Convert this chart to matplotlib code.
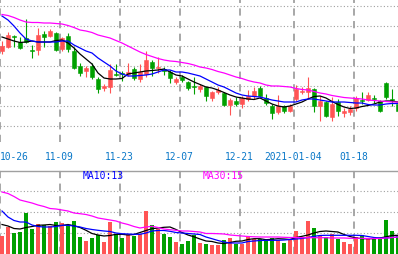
import numpy as np
import matplotlib.pyplot as plt
from matplotlib import transforms

# K线数据 (2020-10-26 起, 共67个交易日)
opens = [4.55, 4.59, 4.70, 4.64, 4.68, 4.56, 4.56, 4.72, 4.70, 4.73,
         4.57, 4.70, 4.55, 4.40, 4.35, 4.40, 4.27, 4.18, 4.19, 4.32,
         4.33, 4.32, 4.37, 4.27, 4.32, 4.44, 4.38, 4.37, 4.34, 4.24,
         4.29, 4.24, 4.20, 4.17, 4.19, 4.08, 4.14, 4.13, 4.01, 4.05,
         4.02, 4.07, 4.10, 4.18, 4.08, 4.00, 3.94, 4.00, 3.95, 4.07,
         4.14, 4.14, 4.17, 4.00, 4.04, 3.89, 4.04, 3.93, 3.94, 3.98,
         4.06, 4.06, 4.08, 4.05, 4.23, 4.07, 4.02]
highs = [4.65, 4.74, 4.71, 4.69, 4.87, 4.61, 4.78, 4.75, 4.77, 4.74,
         4.69, 4.73, 4.59, 4.43, 4.40, 4.43, 4.29, 4.22, 4.42, 4.42,
         4.35, 4.43, 4.39, 4.42, 4.55, 4.46, 4.49, 4.39, 4.36, 4.29,
         4.31, 4.25, 4.29, 4.22, 4.20, 4.15, 4.19, 4.14, 4.08, 4.09,
         4.10, 4.16, 4.19, 4.20, 4.12, 4.02, 4.11, 4.01, 4.02, 4.21,
         4.19, 4.29, 4.18, 4.10, 4.05, 4.09, 4.07, 3.98, 4.00, 4.10,
         4.14, 4.14, 4.11, 4.06, 4.24, 4.17, 4.04]
lows = [4.52, 4.58, 4.59, 4.57, 4.63, 4.48, 4.51, 4.59, 4.69, 4.55,
        4.55, 4.54, 4.37, 4.30, 4.29, 4.27, 4.13, 4.15, 4.13, 4.30,
        4.25, 4.30, 4.26, 4.24, 4.29, 4.30, 4.33, 4.31, 4.23, 4.22,
        4.24, 4.16, 4.12, 4.14, 4.05, 4.05, 4.12, 4.00, 3.91, 4.00,
        3.98, 4.05, 4.07, 4.09, 4.01, 3.87, 3.92, 3.93, 3.94, 4.05,
        4.12, 4.07, 3.94, 3.85, 3.89, 3.85, 3.90, 3.89, 3.91, 3.95,
        4.02, 4.05, 4.03, 3.94, 4.07, 4.00, 3.94]
closes = [4.60, 4.71, 4.69, 4.58, 4.64, 4.55, 4.71, 4.69, 4.75, 4.56,
          4.68, 4.57, 4.38, 4.33, 4.38, 4.29, 4.17, 4.20, 4.36, 4.31,
          4.32, 4.34, 4.28, 4.34, 4.46, 4.38, 4.39, 4.35, 4.28, 4.27,
          4.26, 4.18, 4.19, 4.20, 4.10, 4.14, 4.16, 4.01, 4.06, 4.02,
          4.08, 4.10, 4.15, 4.10, 4.03, 3.93, 4.00, 3.95, 4.00, 4.17,
          4.15, 4.18, 4.00, 4.05, 3.90, 4.02, 3.95, 3.95, 3.97, 4.08,
          4.05, 4.11, 4.07, 3.95, 4.09, 4.06, 3.95]

# 均线
ma5 = [4.69, 4.67, 4.65, 4.635, 4.64, 4.65, 4.64, 4.64, 4.64, 4.655,
       4.66, 4.63, 4.58, 4.52, 4.47, 4.42, 4.33, 4.28, 4.27, 4.27,
       4.275, 4.32, 4.33, 4.34, 4.35, 4.355, 4.36, 4.37, 4.34, 4.31,
       4.30, 4.27, 4.24, 4.215, 4.19, 4.18, 4.16, 4.135, 4.11, 4.09,
       4.08, 4.07, 4.065, 4.08, 4.05, 4.02, 4.00, 3.99, 4.00, 4.02,
       4.04, 4.07, 4.095, 4.10, 4.08, 4.045, 4.015, 3.99, 3.975, 3.98,
       3.995, 4.005, 4.02, 4.04, 4.05, 4.05, 4.04]
ma10 = [4.90, 4.86, 4.80, 4.73, 4.67, 4.65, 4.64, 4.64, 4.64, 4.64,
        4.65, 4.65, 4.61, 4.58, 4.55, 4.53, 4.48, 4.44, 4.40, 4.35,
        4.32, 4.30, 4.30, 4.305, 4.31, 4.32, 4.34, 4.36, 4.36, 4.34,
        4.34, 4.33, 4.315, 4.30, 4.27, 4.24, 4.21, 4.19, 4.16, 4.13,
        4.11, 4.10, 4.095, 4.09, 4.075, 4.06, 4.05, 4.04, 4.04, 4.04,
        4.06, 4.07, 4.07, 4.06, 4.05, 4.04, 4.04, 4.04, 4.035, 4.03,
        4.03, 4.015, 4.01, 4.01, 4.02, 4.025, 4.025]
ma30 = [4.915, 4.905, 4.885, 4.86, 4.84, 4.835, 4.835, 4.83, 4.83, 4.825,
        4.82, 4.805, 4.785, 4.76, 4.75, 4.735, 4.71, 4.695, 4.68, 4.655,
        4.63, 4.60, 4.57, 4.54, 4.515, 4.495, 4.475, 4.46, 4.45, 4.445,
        4.435, 4.425, 4.41, 4.39, 4.38, 4.365, 4.345, 4.33, 4.31, 4.29,
        4.275, 4.255, 4.24, 4.23, 4.21, 4.20, 4.20, 4.195, 4.19, 4.175,
        4.165, 4.16, 4.145, 4.13, 4.12, 4.105, 4.095, 4.085, 4.08, 4.075,
        4.07, 4.06, 4.055, 4.05, 4.045, 4.04, 4.04]

# 成交量 (万手)
volume = [1.80, 2.70, 2.10, 2.20, 4.13, 2.53, 3.03, 2.93, 2.77, 3.20,
          3.10, 2.87, 3.30, 1.70, 1.30, 1.60, 1.93, 1.20, 3.20, 1.97,
          1.60, 1.97, 1.77, 1.97, 4.30, 2.90, 2.53, 2.03, 1.70, 1.20,
          0.97, 1.30, 1.87, 1.07, 1.03, 0.87, 0.87, 1.37, 1.60, 0.97,
          0.97, 1.70, 1.53, 1.53, 1.43, 1.60, 1.43, 1.10, 1.53, 2.30,
          1.70, 3.30, 2.60, 1.77, 1.70, 2.03, 1.53, 1.20, 1.03, 1.70,
          1.87, 1.53, 1.53, 1.63, 3.43, 2.30, 1.77]
vol_ma5 = [2.95, 2.80, 2.55, 2.50, 2.65, 2.75, 2.87, 2.90, 2.95, 2.85,
           2.85, 2.95, 2.82, 2.65, 2.37, 2.05, 1.90, 1.80, 1.85, 1.97,
           1.97, 1.90, 1.95, 2.15, 2.35, 2.53, 2.60, 2.67, 2.70, 2.45,
           2.15, 1.90, 1.72, 1.50, 1.30, 1.25, 1.10, 1.05, 1.15, 1.27,
           1.30, 1.45, 1.53, 1.53, 1.43, 1.47, 1.53, 1.50, 1.45, 1.65,
           1.77, 1.90, 2.10, 2.25, 2.30, 2.25, 2.20, 1.95, 1.75, 1.60,
           1.53, 1.53, 1.53, 1.60, 1.72, 1.85, 1.87]
vol_ma10 = [4.30, 3.70, 3.35, 3.20, 3.20, 2.90, 2.75, 2.70, 2.70, 2.75,
            2.87, 2.87, 2.80, 2.70, 2.55, 2.45, 2.37, 2.30, 2.25, 2.10,
            2.03, 2.00, 1.97, 1.97, 2.10, 2.30, 2.35, 2.35, 2.27, 2.15,
            2.10, 2.05, 2.00, 1.95, 1.70, 1.53, 1.35, 1.20, 1.10, 1.10,
            1.10, 1.25, 1.30, 1.35, 1.37, 1.37, 1.37, 1.40, 1.45, 1.50,
            1.55, 1.65, 1.77, 1.85, 1.87, 1.87, 1.87, 1.87, 1.87, 1.87,
            1.85, 1.75, 1.65, 1.60, 1.60, 1.65, 1.70]
vol_ma30 = [6.20, 6.05, 5.75, 5.40, 5.25, 5.10, 4.90, 4.75, 4.55, 4.50,
            4.40, 4.30, 4.10, 4.03, 3.95, 3.80, 3.60, 3.50, 3.40, 3.30,
            3.10, 2.95, 2.75, 2.60, 2.70, 2.77, 2.65, 2.50, 2.43, 2.37,
            2.30, 2.30, 2.25, 2.20, 2.05, 2.05, 2.03, 2.00, 1.90, 1.85,
            1.80, 1.75, 1.72, 1.70, 1.70, 1.70, 1.70, 1.67, 1.65, 1.65,
            1.63, 1.63, 1.63, 1.63, 1.63, 1.60, 1.60, 1.60, 1.57, 1.57,
            1.57, 1.55, 1.55, 1.55, 1.60, 1.65, 1.70]

tick_idx = [0, 10, 20, 30, 40, 49, 59]
tick_labels = ['10-26', '11-09', '11-23', '12-07', '12-21', '2021-01-04', '01-18']

RED = '#ff5454'
GREEN = '#00a000'
GRID = '#a0a0a0'

x = np.arange(len(opens))
o = np.array(opens); c = np.array(closes)
h = np.array(highs); l = np.array(lows)
colors = [RED if cc > oo else GREEN for oo, cc in zip(o, c)]

W, H = 398, 255
fig = plt.figure(figsize=(W / 100, H / 100), dpi=100)
ax = fig.add_axes([0, 1 - 143 / H, 1, 143 / H])
axv = fig.add_axes([0, 0, 1, 84 / H])

xmin, xmax = -2 / 6, (W - 2) / 6
for a in (ax, axv):
    a.set_xlim(xmin, xmax)
    a.axis('off')
    for i in tick_idx:
        a.axvline(i - 1 / 3 + 0.08, color=GRID, lw=1.3, ls=(0, (4, 3)), zorder=1)

ax.set_ylim(5.07 - 1.43, 5.07)
for p in np.arange(3.8, 5.01, 0.2):
    ax.axhline(p, color=GRID, lw=0.8, ls=(0, (1, 2)), zorder=0)

# 蜡烛图
ax.vlines(x, l, h, colors=colors, lw=0.8, zorder=2)
body = np.maximum(np.abs(c - o), 0.008)
ax.bar(x, body, bottom=np.minimum(o, c), width=0.78, color=colors,
       edgecolor=colors, linewidth=0.4, zorder=3)
ax.plot(x, ma5, color='black', lw=0.9, zorder=4)
ax.plot(x, ma10, color='#0000ff', lw=0.9, zorder=4)
ax.plot(x, ma30, color='#ff00ff', lw=0.9, zorder=4)

# 成交量
axv.set_ylim(0, 8.4)
for v in (2.1, 4.2, 6.3):
    axv.axhline(v, color=GRID, lw=0.8, ls=(0, (1, 2)), zorder=0)
axv.bar(x, volume, width=0.82, color=colors, zorder=2)
axv.plot(x, vol_ma5, color='black', lw=0.9, zorder=4)
axv.plot(x, vol_ma10, color='#0000ff', lw=0.9, zorder=4)
axv.plot(x, vol_ma30, color='#ff00ff', lw=0.9, zorder=4)

# 分隔线
fig.add_artist(plt.Line2D([0, 1], [1 - 171.7 / H] * 2, color='#a0a0a0', lw=1.0))

# 日期标签
trans = transforms.blended_transform_factory(ax.transData, fig.transFigure)
for i, lab in zip(tick_idx, tick_labels):
    if i == 0:
        ax.text(xmin, 1 - 156.5 / H, lab, transform=trans, ha='left', va='center',
                fontsize=6.9, family='DejaVu Sans Mono', color='#0a78c8')
    else:
        ax.text(i - 1 / 3 - 0.1, 1 - 156.5 / H, lab, transform=trans, ha='center',
                va='center', fontsize=6.9, family='DejaVu Sans Mono', color='#0a78c8',
                clip_on=False)

fig.text(82.5 / W, 1 - 176.5 / H, 'MA10:13', ha='left', va='center', fontsize=7,
         family='DejaVu Sans Mono', color='#0000ff')
fig.text(202.5 / W, 1 - 176.5 / H, 'MA30:15', ha='left', va='center', fontsize=7,
         family='DejaVu Sans Mono', color='#ff00ff')

fig.savefig('out.png', dpi=100)
